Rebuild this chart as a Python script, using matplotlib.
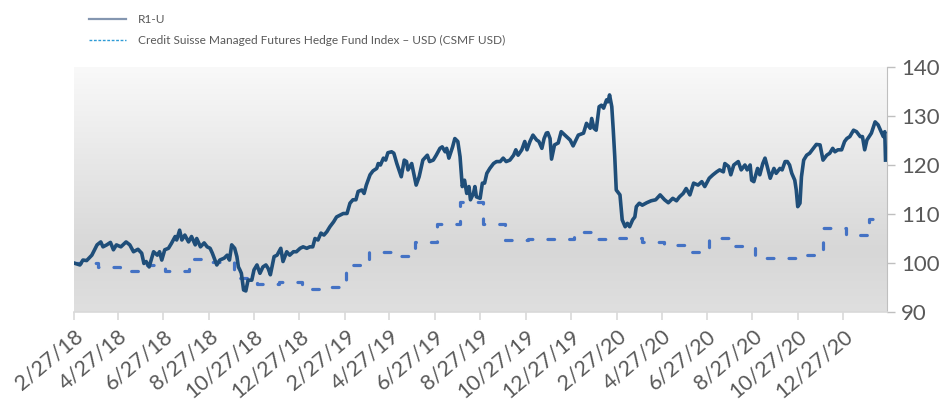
import matplotlib
matplotlib.use('Agg')
import matplotlib.pyplot as plt
import matplotlib.dates as mdates
import numpy as np
import pandas as pd
from matplotlib.colors import LinearSegmentedColormap
from matplotlib.lines import Line2D

plt.rcParams['font.family'] = ['Lato', 'DejaVu Sans']

start = pd.Timestamp('2018-02-27')
end = pd.Timestamp('2021-02-24')

# R1-U (days since 2/27/18, index level)
r1u_days = [0, 8, 12, 17, 24, 31, 36, 39, 44, 49, 53, 57, 63, 70, 75, 80, 86, 91, 94, 97,
            101, 107, 112, 115, 118, 122, 127, 131, 136, 138, 142, 145, 149, 154, 158, 163, 165, 170, 175, 179,
            183, 186, 192, 196, 202, 206, 209, 212, 216, 219, 221, 223, 225, 228, 231, 234, 239, 242, 246, 250,
            254, 258, 261, 264, 269, 273, 278, 281, 286, 290, 295, 299, 304, 308, 313, 317, 321, 324, 328, 332,
            336, 340, 344, 349, 353, 358, 362, 367, 371, 375, 379, 382, 387, 390, 393, 398, 402, 407, 409, 412,
            416, 419, 422, 427, 430, 434, 440, 444, 447, 449, 454, 460, 464, 469, 475, 478, 483, 487, 492, 495,
            499, 501, 504, 509, 512, 516, 519, 522, 525, 528, 531, 533, 537, 539, 541, 546, 549, 552, 555, 559,
            564, 568, 573, 577, 581, 586, 591, 594, 597, 602, 606, 609, 613, 617, 622, 625, 629, 632, 635, 637,
            640, 642, 646, 651, 655, 662, 667, 671, 678, 685, 689, 694, 696, 699, 702, 706, 709, 712, 716, 718,
            720, 723, 725, 727, 729, 734, 737, 741, 744, 747, 751, 754, 756, 760, 764, 770, 776, 782, 788, 794,
            799, 805, 810, 814, 819, 823, 828, 833, 839, 844, 848, 854, 859, 864, 868, 873, 875, 880, 883, 887,
            893, 897, 902, 905, 909, 911, 914, 919, 922, 926, 929, 932, 936, 941, 944, 949, 952, 956, 959, 962,
            965, 969, 971, 973, 976, 978, 981, 985, 989, 994, 998, 1003, 1007, 1012, 1016, 1020, 1023, 1027, 1032, 1036,
            1039, 1043, 1048, 1052, 1057, 1060, 1063, 1066, 1072, 1077, 1081, 1086, 1088, 1090, 1091]
r1u_values = [100.0, 99.6, 100.6, 100.5, 101.6, 103.7, 104.3, 103.3, 103.7, 104.2, 102.7, 103.7, 103.3, 104.3, 103.7, 102.3, 102.8, 102.0, 99.9, 100.3,
              99.2, 102.3, 101.6, 102.3, 100.6, 102.7, 103.0, 104.0, 105.4, 104.7, 106.7, 104.7, 105.7, 104.3, 105.4, 103.7, 105.0, 103.3, 104.1, 103.3,
              103.0, 102.0, 99.6, 100.6, 101.0, 101.6, 100.6, 103.7, 103.0, 101.3, 99.2, 98.6, 97.9, 94.5, 94.3, 96.5, 96.5, 98.6, 99.6, 97.9,
              99.2, 99.6, 98.9, 97.6, 101.3, 101.6, 103.0, 100.3, 102.3, 101.6, 102.3, 102.3, 103.0, 103.3, 103.0, 103.3, 103.3, 105.0, 104.7, 106.1,
              105.7, 106.4, 107.4, 108.4, 109.4, 109.8, 110.1, 110.1, 112.2, 112.9, 112.9, 114.6, 114.9, 114.2, 115.9, 118.0, 118.8, 119.3, 120.3, 120.0,
              121.4, 121.0, 122.5, 122.7, 122.4, 120.3, 117.6, 121.0, 120.7, 119.0, 120.3, 115.9, 117.6, 121.0, 122.0, 120.7, 121.0, 122.0, 123.4, 123.7,
              122.7, 123.4, 121.4, 123.7, 125.4, 124.8, 121.7, 115.6, 116.9, 114.2, 115.6, 112.9, 114.2, 115.6, 113.5, 113.2, 116.3, 116.3, 118.3, 119.3,
              120.3, 120.7, 120.7, 121.4, 120.7, 121.0, 122.0, 123.1, 122.0, 123.1, 124.8, 123.1, 124.8, 126.1, 125.1, 124.8, 123.4, 125.4, 126.5, 126.6,
              125.4, 121.2, 124.1, 124.5, 126.8, 125.8, 125.1, 123.9, 126.1, 126.5, 128.5, 127.5, 129.5, 127.5, 127.1, 131.9, 132.2, 131.6, 133.3, 132.9,
              134.3, 131.9, 127.1, 121.7, 114.9, 113.9, 108.8, 107.4, 108.1, 107.4, 108.8, 109.4, 111.5, 112.2, 111.8, 112.3, 112.7, 112.9, 113.9, 112.9,
              112.3, 113.2, 112.7, 113.5, 114.2, 115.2, 113.9, 116.3, 115.9, 116.6, 115.6, 117.3, 118.0, 118.6, 119.0, 118.6, 120.3, 119.7, 118.0, 120.0,
              120.7, 119.0, 120.0, 119.0, 120.0, 116.9, 116.6, 119.3, 118.0, 120.3, 121.4, 119.7, 117.3, 119.3, 118.3, 119.3, 119.0, 120.7, 120.7, 120.0,
              118.3, 116.9, 114.9, 111.5, 112.2, 117.6, 121.0, 122.0, 122.4, 123.4, 124.2, 124.1, 121.0, 122.0, 122.4, 123.4, 122.7, 123.1, 123.1, 124.8,
              125.4, 125.8, 127.1, 126.8, 125.8, 125.8, 123.1, 125.1, 126.5, 128.8, 128.2, 126.5, 125.8, 126.8, 121.0]

# CSMF USD, monthly index (held until next month end)
csmf_dates = ['2018-02-27', '2018-02-28', '2018-03-31', '2018-04-30', '2018-05-31', '2018-06-30',
              '2018-07-31', '2018-08-31', '2018-09-30', '2018-10-31', '2018-11-30', '2018-12-31',
              '2019-01-31', '2019-02-28', '2019-03-31', '2019-04-30', '2019-05-31', '2019-06-30',
              '2019-07-31', '2019-08-31', '2019-09-30', '2019-10-31', '2019-11-30', '2019-12-31',
              '2020-01-31', '2020-02-29', '2020-03-31', '2020-04-30', '2020-05-31', '2020-06-30',
              '2020-07-31', '2020-08-31', '2020-09-30', '2020-10-31', '2020-11-30', '2020-12-31',
              '2021-01-31', '2021-02-24']
csmf_values = [100.0, 99.9, 99.2, 98.3, 99.5, 98.4,
               100.9, 100.3, 96.9, 95.8, 96.2, 94.7,
               95.2, 99.6, 102.2, 101.5, 104.2, 108.0,
               112.4, 107.9, 104.7, 104.8, 105.0, 106.4,
               104.9, 105.2, 104.3, 103.6, 102.2, 105.1,
               103.5, 101.1, 101.0, 101.7, 107.1, 105.8,
               109.0, 109.0]

tick_dates = pd.date_range('2018-02-01', '2020-12-01', freq='2MS') + pd.Timedelta(days=26)
y_ticks = [90, 100, 110, 120, 130, 140]

r1u_x = start + pd.to_timedelta(r1u_days, unit='D')
csmf_x = pd.to_datetime(csmf_dates)

grey = '#595959'
fig = plt.figure(figsize=(9.46, 4.03), dpi=100)
ax = fig.add_axes([74/946, 1-312/403, (887-74)/946, (312-67)/403])

# gradient plot area
bg = LinearSegmentedColormap.from_list('bg', [(0, '#dfdfdf'), (0.25, '#d7d7d7'), (1.0, '#f9f9f9')])
ax.imshow(np.linspace(0, 1, 256).reshape(-1, 1), cmap=bg, origin='lower', aspect='auto',
          extent=[0, 1, 0, 1], transform=ax.transAxes, zorder=0)

ax.plot(csmf_x, csmf_values, drawstyle='steps-post', color='#4472C4', lw=2.3,
        dashes=(2.1, 4.7), dash_capstyle='round', zorder=2)
ax.plot(r1u_x, r1u_values, color='#1F4E79', lw=2.6, solid_joinstyle='round', zorder=3)

ax.set_xlim(start, end)
ax.set_ylim(90, 140)
ax.yaxis.tick_right()
ax.set_yticks(y_ticks)
ax.set_xticks(tick_dates)
ax.xaxis.set_major_formatter(mdates.DateFormatter('%-m/%-d/%y'))
ax.tick_params(axis='y', colors='#bfbfbf', labelcolor=grey, labelsize=16, length=6, width=1, pad=4)
ax.tick_params(axis='x', colors='#d9d9d9', labelcolor=grey, labelsize=15.5, length=6, width=1.2, pad=4)
for lbl in ax.get_xticklabels():
    lbl.set_rotation(40)
    lbl.set_ha('right')
    lbl.set_rotation_mode('anchor')

for s in ['top', 'left']:
    ax.spines[s].set_visible(False)
ax.spines['right'].set_color('#bfbfbf')
ax.spines['bottom'].set_color('#d9d9d9')
ax.spines['bottom'].set_linewidth(1.2)

handles = [Line2D([], [], color='#8496b0', lw=1.6),
           Line2D([], [], color='#2e9bd6', lw=1.0, linestyle=(0, (2, 1.2)))]
labels = ['R1-U', 'Credit Suisse Managed Futures Hedge Fund Index \u2013 USD (CSMF USD)']
fig.legend(handles, labels, loc='upper left', bbox_to_anchor=(89/946, 1-14/403), frameon=False,
           fontsize=8.6, labelcolor=grey,
           handlelength=3.1, handletextpad=1.0, labelspacing=0.85, borderpad=0, borderaxespad=0)

fig.savefig('out.png', dpi=100)
